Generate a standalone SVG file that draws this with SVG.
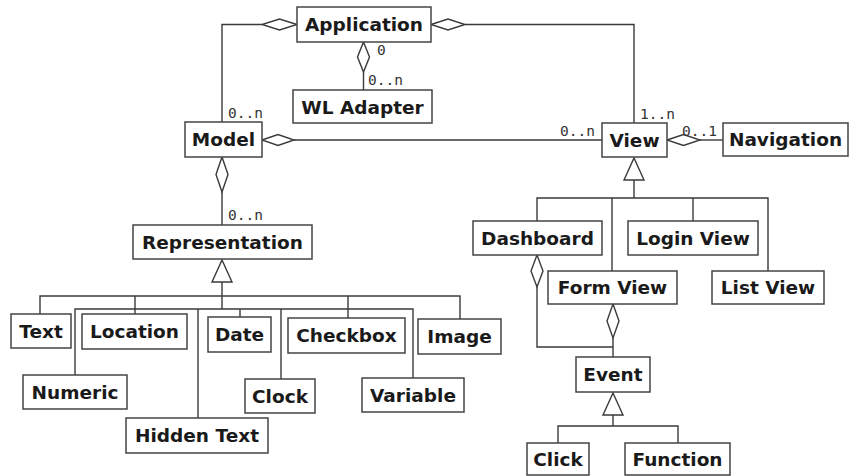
<svg xmlns="http://www.w3.org/2000/svg" width="852" height="476" viewBox="0 0 852 476">
<style>
.box{fill:#fff;stroke:#444;stroke-width:1.5}
.t{font-family:"DejaVu Sans","Verdana",sans-serif;font-weight:bold;font-size:18.5px;fill:#1a1a1a;text-anchor:middle}
.c{fill:none;stroke:#3a3a3a;stroke-width:1.4}
.d{fill:#fff;stroke:#3a3a3a;stroke-width:1.4}
.m{font-family:"DejaVu Sans Mono",monospace;font-size:14.5px;fill:#333}
</style>
<rect width="852" height="476" fill="#fff"/>
<g id="connectors">
  <!-- Application - Model -->
  <polyline class="c" points="262,24.5 222,24.5 222,122"/>
  <polygon class="d" points="297,24.5 279.5,19 262,24.5 279.5,30"/>
  <text class="m" x="228" y="118">0..n</text>
  <!-- Application - View -->
  <polyline class="c" points="465,24.5 634,24.5 634,123"/>
  <polygon class="d" points="431,24.5 448,19 465,24.5 448,30"/>
  <text class="m" x="640" y="119">1..n</text>
  <!-- Application - WL Adapter -->
  <line class="c" x1="363.5" y1="72" x2="363.5" y2="90"/>
  <polygon class="d" points="363.5,42 369.5,57 363.5,72 357.5,57"/>
  <text class="m" x="377" y="55">0</text>
  <text class="m" x="368" y="85">0..n</text>
  <!-- Model - View -->
  <line class="c" x1="294" y1="140" x2="602" y2="140"/>
  <polygon class="d" points="262,140 278,134.5 294,140 278,145.5"/>
  <text class="m" x="560" y="136">0..n</text>
  <!-- View - Navigation -->
  <line class="c" x1="700" y1="140" x2="723" y2="140"/>
  <polygon class="d" points="667,140 683.5,134.5 700,140 683.5,145.5"/>
  <text class="m" x="682" y="136">0..1</text>
  <!-- Model - Representation -->
  <line class="c" x1="222" y1="192" x2="222" y2="225"/>
  <polygon class="d" points="222,157 228,174.5 222,192 216,174.5"/>
  <text class="m" x="228" y="220">0..n</text>
  <!-- Representation inheritance -->
  <polygon class="d" points="222,260 232,282 212,282"/>
  <line class="c" x1="222" y1="282" x2="222" y2="309"/>
  <polyline class="c" points="40,314 40,296 460,296 460,319"/>
  <line class="c" x1="135" y1="296" x2="135" y2="314"/>
  <line class="c" x1="348" y1="296" x2="348" y2="318"/>
  <polyline class="c" points="75,375 75,309 413,309 413,378"/>
  <line class="c" x1="198" y1="309" x2="198" y2="418"/>
  <line class="c" x1="240" y1="309" x2="240" y2="317"/>
  <line class="c" x1="281" y1="309" x2="281" y2="379"/>
  <!-- View inheritance -->
  <polygon class="d" points="634,158 644,180 624,180"/>
  <line class="c" x1="634" y1="180" x2="634" y2="198"/>
  <polyline class="c" points="537,221 537,198 768,198 768,271"/>
  <line class="c" x1="612" y1="198" x2="612" y2="271"/>
  <line class="c" x1="693" y1="198" x2="693" y2="221"/>
  <!-- Dashboard - Event -->
  <polyline class="c" points="537,287 537,347 613,347"/>
  <polygon class="d" points="537,255 543,271 537,287 531,271"/>
  <!-- Form View - Event -->
  <line class="c" x1="613" y1="338" x2="613" y2="357"/>
  <polygon class="d" points="613,304 619,321 613,338 607,321"/>
  <!-- Event inheritance -->
  <polygon class="d" points="613,393 623,415 603,415"/>
  <line class="c" x1="613" y1="415" x2="613" y2="426"/>
  <polyline class="c" points="558,443 558,426 678,426 678,443"/>
</g>
<g id="application"><rect class="box" x="297" y="7" width="134" height="35"/><text class="t" x="364" y="31">Application</text></g>
<g id="wl-adapter"><rect class="box" x="293" y="90" width="139" height="33"/><text class="t" x="362.5" y="113.5">WL Adapter</text></g>
<g id="model"><rect class="box" x="185" y="122" width="77" height="35"/><text class="t" x="223.5" y="146">Model</text></g>
<g id="view"><rect class="box" x="602" y="123" width="65" height="34"/><text class="t" x="634.5" y="146.5">View</text></g>
<g id="navigation"><rect class="box" x="723" y="123" width="125" height="33"/><text class="t" x="785.5" y="146">Navigation</text></g>
<g id="representation"><rect class="box" x="133" y="225" width="179" height="34"/><text class="t" x="222.5" y="248.5">Representation</text></g>
<g id="dashboard"><rect class="box" x="473" y="221" width="129" height="34"/><text class="t" x="537.5" y="244.5">Dashboard</text></g>
<g id="login-view"><rect class="box" x="628" y="221" width="130" height="34"/><text class="t" x="693" y="244.5">Login View</text></g>
<g id="form-view"><rect class="box" x="548" y="271" width="129" height="33"/><text class="t" x="612.5" y="294">Form View</text></g>
<g id="list-view"><rect class="box" x="712" y="271" width="112" height="33"/><text class="t" x="768" y="294">List View</text></g>
<g id="event"><rect class="box" x="576" y="357" width="74" height="35"/><text class="t" x="613" y="381">Event</text></g>
<g id="click"><rect class="box" x="527" y="443" width="62" height="32"/><text class="t" x="558" y="466">Click</text></g>
<g id="function"><rect class="box" x="625" y="443" width="105" height="32"/><text class="t" x="677.5" y="466">Function</text></g>
<g id="text"><rect class="box" x="11" y="314" width="60" height="34"/><text class="t" x="41" y="337.5">Text</text></g>
<g id="location"><rect class="box" x="82" y="314" width="105" height="35"/><text class="t" x="134.5" y="338">Location</text></g>
<g id="date"><rect class="box" x="208" y="317" width="63" height="35"/><text class="t" x="239.5" y="341">Date</text></g>
<g id="checkbox"><rect class="box" x="288" y="318" width="117" height="35"/><text class="t" x="346.5" y="342">Checkbox</text></g>
<g id="image"><rect class="box" x="418" y="319" width="83" height="35"/><text class="t" x="459.5" y="343">Image</text></g>
<g id="numeric"><rect class="box" x="23" y="375" width="104" height="34"/><text class="t" x="75" y="398.5">Numeric</text></g>
<g id="hidden-text"><rect class="box" x="126" y="418" width="142" height="35"/><text class="t" x="197" y="442">Hidden Text</text></g>
<g id="clock"><rect class="box" x="245" y="379" width="70" height="34"/><text class="t" x="280" y="402.5">Clock</text></g>
<g id="variable"><rect class="box" x="362" y="378" width="102" height="34"/><text class="t" x="413" y="401.5">Variable</text></g>
</svg>
